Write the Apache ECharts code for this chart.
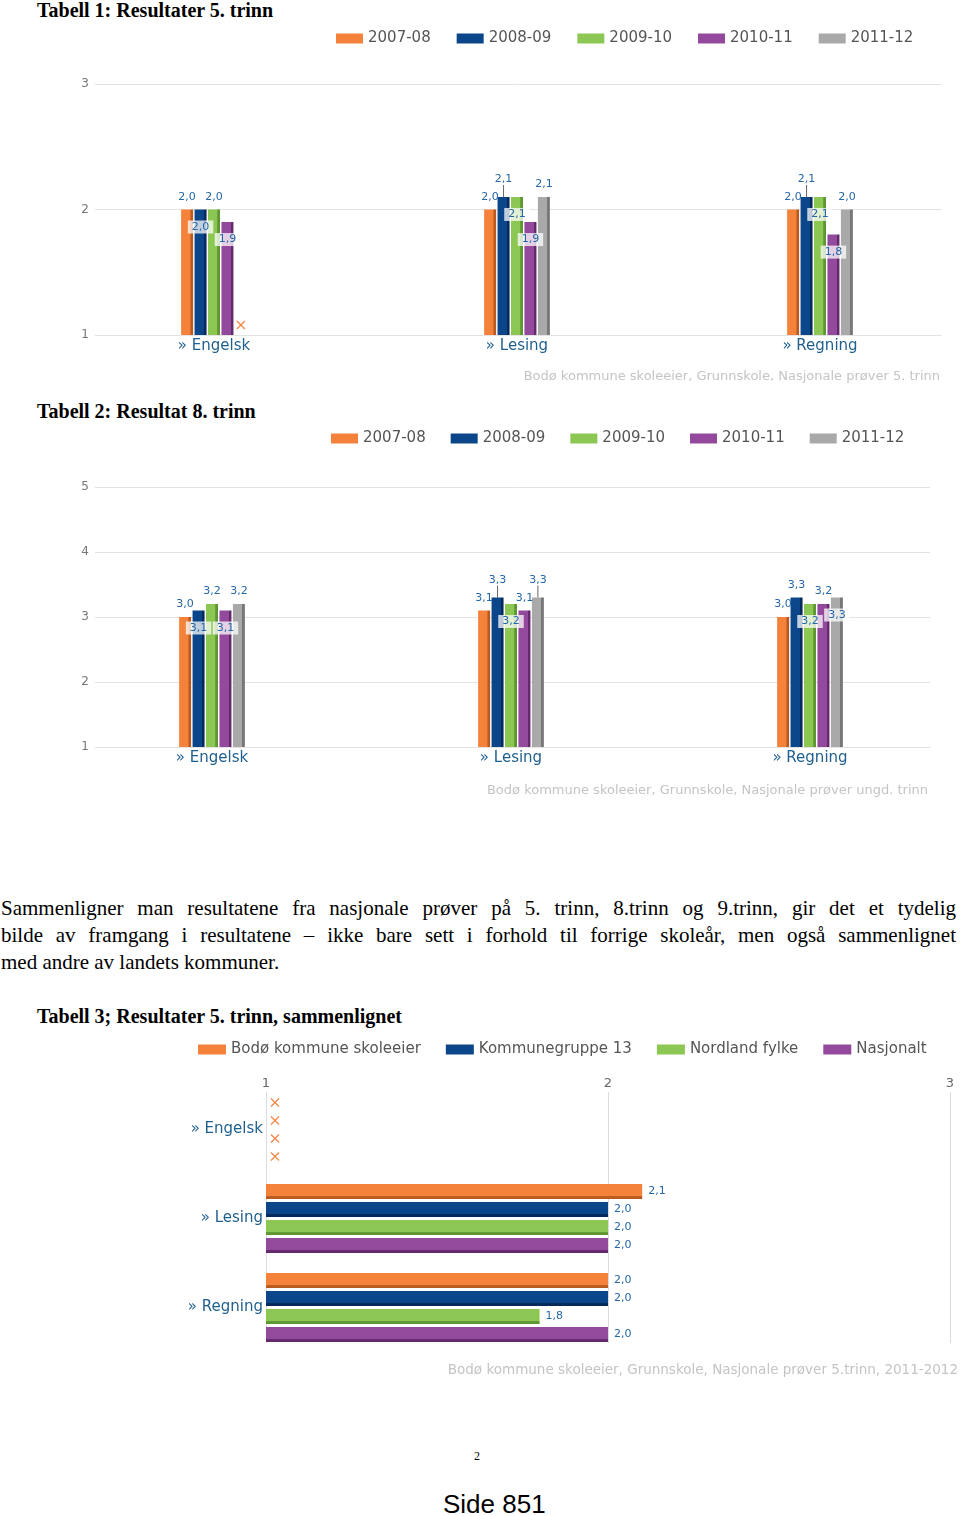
<!DOCTYPE html>
<html><head><meta charset="utf-8">
<script src="https://cdn.jsdelivr.net/npm/echarts@6/dist/echarts.min.js"></script>
<style>
html,body{margin:0;padding:0;background:#fff;}
body{width:960px;height:1516px;position:relative;overflow:hidden;font-family:"Liberation Serif","Times New Roman",serif;color:#000;}
.t{position:absolute;left:37px;font-weight:bold;font-size:20px;line-height:20px;white-space:nowrap;}
.chart{position:absolute;left:0;width:960px;}
.para{position:absolute;left:1px;top:895px;width:955px;font-size:21px;line-height:27px;}
.para .j{text-align:justify;text-align-last:justify;}
.pg{position:absolute;font-family:"Liberation Serif",serif;font-size:12px;left:474px;top:1449px;}
.side{position:absolute;font-family:"Liberation Sans",Arial,sans-serif;font-size:26px;left:443px;top:1489px;}
</style></head>
<body>
<div class="t" style="top:0px">Tabell 1: Resultater 5. trinn</div>
<div id="c1" class="chart" style="top:20px;height:375px"></div>
<div class="t" style="top:401px">Tabell 2: Resultat 8. trinn</div>
<div id="c2" class="chart" style="top:420px;height:390px"></div>
<div class="para">
<div class="j">Sammenligner man resultatene fra nasjonale prøver på 5. trinn, 8.trinn og 9.trinn, gir det et tydelig</div>
<div class="j">bilde av framgang i resultatene – ikke bare sett i forhold til forrige skoleår, men også sammenlignet</div>
<div>med andre av landets kommuner.</div>
</div>
<div class="t" style="top:1006px">Tabell 3; Resultater 5. trinn, sammenlignet</div>
<div id="c3" class="chart" style="top:1030px;height:360px"></div>
<div class="pg">2</div>
<div class="side">Side 851</div>
<script>
// ---------- data ----------
const categories = ['Engelsk', 'Lesing', 'Regning'];
const seasons = ['2007-08', '2008-09', '2009-10', '2010-11', '2011-12'];

// Tabell 1: 5. trinn
const t5_2007_08 = [2.0, 2.0, 2.0];
const t5_2008_09 = [2.0, 2.1, 2.1];
const t5_2009_10 = [2.0, 2.1, 2.1];
const t5_2010_11 = [1.9, 1.9, 1.8];
const t5_2011_12 = [null, 2.1, 2.0];

// Tabell 2: 8. trinn
const t8_2007_08 = [3.0, 3.1, 3.0];
const t8_2008_09 = [3.1, 3.3, 3.3];
const t8_2009_10 = [3.2, 3.2, 3.2];
const t8_2010_11 = [3.1, 3.1, 3.2];
const t8_2011_12 = [3.2, 3.3, 3.3];

// Tabell 3: 5. trinn 2011-12 sammenlignet
const groups = ['Bodø kommune skoleeier', 'Kommunegruppe 13', 'Nordland fylke', 'Nasjonalt'];
const cmp_bodo = [null, 2.1, 2.0];
const cmp_kg13 = [null, 2.0, 2.0];
const cmp_nordland = [null, 2.0, 1.8];
const cmp_nasjonalt = [null, 2.0, 2.0];

const sources = [
  'Bodø kommune skoleeier, Grunnskole, Nasjonale prøver 5. trinn',
  'Bodø kommune skoleeier, Grunnskole, Nasjonale prøver ungd. trinn',
  'Bodø kommune skoleeier, Grunnskole, Nasjonale prøver 5.trinn, 2011-2012'
];

// ---------- style ----------
const COLORS = ['#f4823a', '#0a4689', '#8cc653', '#944a9c', '#a9a9a9'];
const DARK = ['#b95a20', '#04295a', '#5e9731', '#63296b', '#777777'];
const LABEL_C = '#2466a6';
const CAT_C = '#1f5f8e';
const FONT = 'DejaVu Sans';
const XPATH = 'path://M0,1L1,0L5,4L9,0L10,1L6,5L10,9L9,10L5,6L1,10L0,9L4,5Z';
const fmt = p => Number(p.value).toFixed(1).replace('.', ',');

// label placement per series/category (avoid overlap as in reference)
const modes5 = [
  ['top', 'top', 'top'],
  ['box', 'lead', 'lead'],
  ['top', 'box', 'box'],
  ['box', 'box', 'box'],
  [null, 'top', 'top']
];
const modes8 = [
  ['top', 'top', 'top'],
  ['box', 'lead', 'top'],
  ['top', 'box', 'box'],
  ['box', 'top', 'top'],
  ['top', 'lead', 'box']
];

function vgrad(i) {
  return new echarts.graphic.LinearGradient(0, 0, 1, 0, [
    {offset: 0, color: COLORS[i]}, {offset: 0.76, color: COLORS[i]},
    {offset: 0.8, color: DARK[i]}, {offset: 1, color: DARK[i]}]);
}
function hgrad(i) {
  return new echarts.graphic.LinearGradient(0, 0, 0, 1, [
    {offset: 0, color: COLORS[i]}, {offset: 0.78, color: COLORS[i]},
    {offset: 0.84, color: DARK[i]}, {offset: 1, color: DARK[i]}]);
}
function labelFor(mode) {
  const base = {show: true, color: LABEL_C, fontSize: 11, fontFamily: FONT, formatter: fmt};
  if (mode === 'box') return Object.assign(base, {position: 'insideTop', distance: 11,
    backgroundColor: 'rgba(255,255,255,0.75)', padding: [1, 4]});
  return Object.assign(base, {position: 'top', distance: 7});
}
function legendData(names) {
  return names.map((nm, i) => ({name: nm, itemStyle: {color: COLORS[i]}}));
}

function vertical(el, cfg) {
  const chart = echarts.init(document.getElementById(el), null, {renderer: 'canvas'});
  const BW = 12, GAP = 0.12;
  const series = cfg.series.map((vals, i) => {
    const modes = cfg.modes[i];
    const mp = [];
    vals.forEach((v, k) => {
      if (v == null) mp.push({coord: [categories[k], cfg.min], symbolOffset: [0, -10]});
    });
    return {
      type: 'bar', name: seasons[i], xAxisIndex: 1, yAxisIndex: 1,
      barWidth: BW, barGap: (GAP * 100) + '%',
      itemStyle: {color: vgrad(i)},
      labelLine: {show: false, lineStyle: {color: '#666', width: 1}},
      labelLayout: p => (modes[p.dataIndex] === 'lead' ? {dy: -5} : {}),
      data: vals.map((v, k) => v == null ? null : {
        value: v, label: labelFor(modes[k]),
        labelLine: {show: modes[k] === 'lead', lineStyle: {color: '#666', width: 1}}
      }),
      markPoint: mp.length ? {symbol: XPATH, symbolSize: 9, itemStyle: {color: '#f0884a'},
        label: {show: false}, data: mp, animation: false} : undefined,
      animation: false
    };
  });
  chart.setOption({
    animation: false,
    textStyle: {fontFamily: FONT},
    legend: {left: cfg.legendLeft, top: 11, padding: 0, itemWidth: 27, itemHeight: 10, itemGap: cfg.legendGap,
      icon: 'rect', textStyle: {color: '#555', fontSize: 15, fontFamily: FONT}, data: legendData(seasons)},
    grid: [Object.assign({outerBoundsMode: 'none'}, cfg.bgGrid), Object.assign({outerBoundsMode: 'none'}, cfg.barGrid)],
    xAxis: [
      {gridIndex: 0, type: 'value', show: false},
      {gridIndex: 1, type: 'category', data: categories, axisLine: {show: false}, axisTick: {show: false},
        axisLabel: {color: CAT_C, fontSize: 15, margin: 4, fontFamily: FONT, formatter: v => '\u00bb ' + v}}
    ],
    yAxis: [
      {gridIndex: 0, type: 'value', min: cfg.min, max: cfg.max, interval: 1,
        axisLine: {show: false}, axisTick: {show: false},
        axisLabel: {color: '#777', fontSize: 12, margin: 6},
        splitLine: {lineStyle: {color: '#e3e3e3'}}},
      {gridIndex: 1, type: 'value', min: cfg.min, max: cfg.max, show: false, splitLine: {show: false}}
    ],
    graphic: [{type: 'text', right: cfg.srcRight, top: cfg.srcTop,
      style: {text: cfg.source, fill: '#c4c4c4', font: '13px "DejaVu Sans"'}}],
    series
  });
}

vertical('c1', {
  series: [t5_2007_08, t5_2008_09, t5_2009_10, t5_2010_11, t5_2011_12], modes: modes5,
  min: 1, max: 3, legendLeft: 336, legendGap: 26,
  bgGrid: {left: 95, right: 18, top: 64, height: 251},
  barGrid: {left: 62.5, width: 909, top: 64, height: 251},
  source: sources[0], srcRight: 20, srcTop: 350
});
vertical('c2', {
  series: [t8_2007_08, t8_2008_09, t8_2009_10, t8_2010_11, t8_2011_12], modes: modes8,
  min: 1, max: 5, legendLeft: 331, legendGap: 25,
  bgGrid: {left: 95, right: 30, top: 67, height: 260},
  barGrid: {left: 62.5, width: 897, top: 67, height: 260},
  source: sources[1], srcRight: 32, srcTop: 364
});

// ---------- chart 3 (horizontal) ----------
(function () {
  const chart = echarts.init(document.getElementById('c3'));
  const data = [cmp_bodo, cmp_kg13, cmp_nordland, cmp_nasjonalt];
  const BW = 15, GAP = 0.2;
  const series = data.map((vals, i) => {
    const mp = [];
    vals.forEach((v, k) => {
      if (v == null) mp.push({coord: [1, categories[k]], symbolOffset: [9, 0]});
    });
    return {
      type: 'bar', name: groups[i], xAxisIndex: 1, yAxisIndex: 1,
      barWidth: BW, barGap: (GAP * 100) + '%',
      itemStyle: {color: hgrad(i)},
      label: {show: true, position: 'right', distance: 6, color: LABEL_C, fontSize: 11, fontFamily: FONT, formatter: fmt},
      data: vals,
      markPoint: mp.length ? {symbol: XPATH, symbolSize: 9, itemStyle: {color: '#f0884a'},
        label: {show: false}, data: mp, animation: false} : undefined,
      animation: false
    };
  });
  chart.setOption({
    animation: false,
    textStyle: {fontFamily: FONT},
    legend: {left: 198, top: 12, padding: 0, itemWidth: 28, itemHeight: 10, itemGap: 25, icon: 'rect',
      textStyle: {color: '#555', fontSize: 15, fontFamily: FONT}, data: legendData(groups)},
    grid: [
      {outerBoundsMode: 'none', left: 266, right: 10, top: 62, height: 251},
      {outerBoundsMode: 'none', left: 266, right: 10, top: 55, height: 267}
    ],
    xAxis: [
      {gridIndex: 0, type: 'value', position: 'top', min: 1, max: 3, interval: 1,
        axisLine: {show: false}, axisTick: {show: false},
        axisLabel: {color: '#666', fontSize: 13, margin: 2},
        splitLine: {lineStyle: {color: '#dcdcdc'}}},
      {gridIndex: 1, type: 'value', min: 1, max: 3, show: false, splitLine: {show: false}}
    ],
    yAxis: [
      {gridIndex: 0, type: 'category', show: false, data: categories},
      {gridIndex: 1, type: 'category', data: categories, inverse: true,
        axisLine: {show: false}, axisTick: {show: false},
        axisLabel: {color: CAT_C, fontSize: 15, margin: 3, fontFamily: FONT, formatter: v => '\u00bb ' + v}}
    ],
    graphic: [{type: 'text', right: 2, top: 333,
      style: {text: sources[2], fill: '#c4c4c4', font: '13.5px "DejaVu Sans"'}}],
    series
  });
})();
</script>
</body></html>
